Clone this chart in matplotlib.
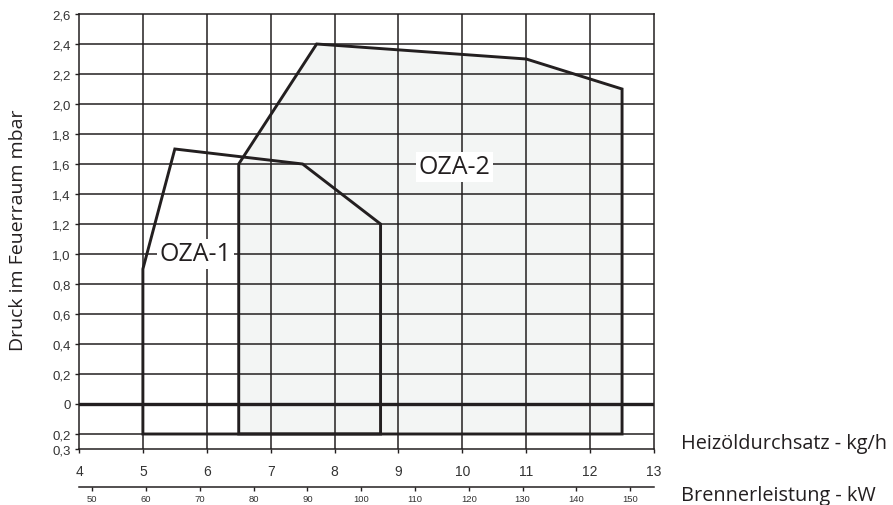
import matplotlib
matplotlib.use("Agg")
import matplotlib.pyplot as plt

# Operating ranges (Heizöldurchsatz kg/h vs. Druck im Feuerraum mbar)
oza1_x = [5.0, 5.0, 5.5, 7.5, 8.72, 8.72]
oza1_y = [-0.2, 0.9, 1.7, 1.6, 1.2, -0.2]
oza2_x = [6.5, 6.5, 7.72, 11.0, 12.5, 12.5]
oza2_y = [-0.2, 1.6, 2.4, 2.3, 2.1, -0.2]

y_ticks = [2.6, 2.4, 2.2, 2.0, 1.8, 1.6, 1.4, 1.2, 1.0, 0.8, 0.6, 0.4, 0.2, 0.0, -0.2, -0.3]
y_labels = ["2,6", "2,4", "2,2", "2,0", "1,8", "1,6", "1,4", "1,2", "1,0",
            "0,8", "0,6", "0,4", "0,2", "0", "0,2", "0,3"]
x_ticks = [4, 5, 6, 7, 8, 9, 10, 11, 12, 13]
kw_ticks = [50, 60, 70, 80, 90, 100, 110, 120, 130, 140, 150]
KW_PER_KG = 11.88

DARK = "#231f20"
plt.rcParams["font.family"] = ["Liberation Sans", "DejaVu Sans"]

fig = plt.figure(figsize=(8.93, 5.06), dpi=100)
ax = fig.add_axes([79 / 893, 1 - 450 / 506, (654 - 79) / 893, (450 - 15) / 506])

ax.set_xlim(4, 13)
ax.set_ylim(-0.3, 2.6)

# grid
for x in x_ticks[1:-1]:
    ax.axvline(x, color=DARK, lw=1.1, zorder=2)
for y in y_ticks:
    if y not in (0.0, 2.6, -0.3):
        ax.axhline(y, color=DARK, lw=1.1, zorder=2)
ax.axhline(0.0, color=DARK, lw=2.4, zorder=3)

# OZA-2 area (filled) and outlines
ax.fill(oza2_x, oza2_y, color="#f3f5f4", zorder=1, lw=0)
ax.fill(oza2_x, oza2_y, fill=False, edgecolor=DARK, lw=2.1, zorder=4, joinstyle="miter")
ax.fill(oza1_x, oza1_y, fill=False, edgecolor=DARK, lw=2.1, zorder=4, joinstyle="miter")

box = dict(facecolor="white", edgecolor="none", pad=2.0)
ax.text(5.82, 1.0, "OZA-1", fontsize=18, family=["Open Sans", "DejaVu Sans"],
        ha="center", va="center", color=DARK, bbox=box, zorder=5)
ax.text(9.88, 1.58, "OZA-2", fontsize=18, family=["Open Sans", "DejaVu Sans"],
        ha="center", va="center", color=DARK, bbox=box, zorder=5)

for s in ax.spines.values():
    s.set_color(DARK)
    s.set_linewidth(1.1)

ax.set_yticks(y_ticks)
ax.set_yticklabels(y_labels)
ax.set_xticks(x_ticks)
ax.set_xticklabels([str(v) for v in x_ticks])
ax.tick_params(axis="both", direction="out", length=3, width=1.0, color=DARK,
               labelsize=9.5, labelcolor="#333333")
ax.tick_params(axis="x", pad=8, labelsize=10)
ax.tick_params(axis="y", pad=3)

# burner output scale
sec = ax.secondary_xaxis(-0.087, functions=(lambda x: x * KW_PER_KG,
                                           lambda k: k / KW_PER_KG))
sec.set_xticks(kw_ticks)
sec.set_xticklabels([str(v) for v in kw_ticks])
sec.tick_params(direction="out", length=3, width=1.0, color=DARK,
                labelsize=6.8, labelcolor="#333333", pad=2)
sec.spines["bottom"].set_color(DARK)
sec.spines["bottom"].set_linewidth(1.1)

lab_font = ["Open Sans", "DejaVu Sans"]
fig.text(18 / 893, 1 - 230 / 506, "Druck im Feuerraum mbar", rotation=90,
         ha="center", va="center", fontsize=14, family=lab_font, color=DARK)
fig.text(681 / 893, 1 - 444 / 506, "Heizöldurchsatz - kg/h",
         ha="left", va="center", fontsize=14.3, family=lab_font, color=DARK)
fig.text(681 / 893, 1 - 496 / 506, "Brennerleistung - kW",
         ha="left", va="center", fontsize=14.3, family=lab_font, color=DARK)

fig.savefig("out.png", dpi=100)
